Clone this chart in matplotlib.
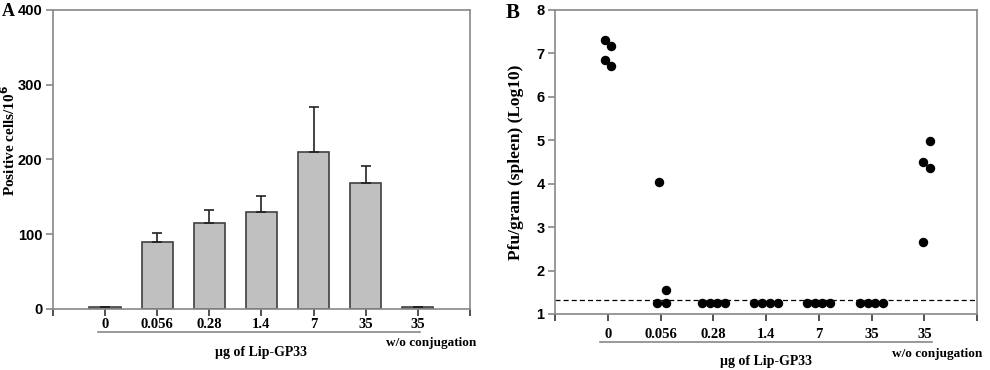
import numpy as np
import matplotlib.pyplot as plt
from matplotlib import transforms

# Data
doses = ["0", "0.056", "0.28", "1.4", "7", "35", "35"]
cells_mean = [2, 89, 115, 130, 210, 168, 2]
cells_err = [1, 13, 17, 21, 60, 23, 1]

# panel B: log10 pfu per gram spleen, individual mice
pfu_groups = [
    [7.31, 7.16, 6.85, 6.70],
    [4.05, 1.55, 1.25, 1.25],
    [1.25, 1.25, 1.25, 1.25],
    [1.25, 1.25, 1.25, 1.25],
    [1.25, 1.25, 1.25, 1.25],
    [1.25, 1.25, 1.25, 1.25],
    [4.99, 4.51, 4.36, 2.66],
]
pfu_offsets = [
    [-0.06, 0.07, -0.06, 0.07],
    [-0.03, 0.10, -0.06, 0.10],
    [-0.22, -0.07, 0.07, 0.22],
    [-0.22, -0.07, 0.07, 0.22],
    [-0.22, -0.07, 0.07, 0.22],
    [-0.22, -0.07, 0.07, 0.22],
    [0.10, -0.03, 0.10, -0.03],
]
detection_limit = 1.32

serif = "Liberation Serif"
sans = "Liberation Sans"
spine_col = "#888888"

fig = plt.figure(figsize=(9.9, 3.7), dpi=100)
axA = fig.add_axes([0.0535, 0.165, 0.4212, 0.808])
axB = fig.add_axes([0.5606, 0.1514, 0.4263, 0.8216])


def style_axes(ax, label_drop, wo_drop, title_drop, line_x):
    for s in ax.spines.values():
        s.set_color(spine_col)
        s.set_linewidth(1.2)
    ax.set_xlim(-1, 7)
    ax.set_xticks(range(-1, 8))
    ax.set_xticklabels([])
    ax.tick_params(axis="both", direction="out", length=5, color=spine_col, width=1.2)
    ax.tick_params(axis="x", color="#333333")
    ax.tick_params(axis="y", pad=2.5)
    for lab in ax.get_yticklabels():
        lab.set_fontfamily(sans)
        lab.set_fontweight("bold")
        lab.set_fontsize(10.5)
    base = transforms.blended_transform_factory(ax.transData, ax.transAxes)
    for i, d in enumerate(doses):
        tr = transforms.offset_copy(base, fig=fig, y=-label_drop, units="dots")
        ax.text(i, 0, d, transform=tr, ha="center", va="center",
                family=serif, weight="bold", fontsize=10.5)
    tr = transforms.offset_copy(base, fig=fig, y=-label_drop - 7, units="dots")
    ax.plot(line_x, [0, 0], color=spine_col, lw=1.2, transform=tr, clip_on=False)
    tr = transforms.offset_copy(base, fig=fig, y=-wo_drop, units="dots")
    ax.text(6.25, 0, "w/o conjugation", transform=tr, ha="center", va="center",
            family=serif, weight="bold", fontsize=9.5)
    tr = transforms.offset_copy(base, fig=fig, y=-title_drop, units="dots")
    ax.text(3, 0, "µg of Lip-GP33", transform=tr, ha="center", va="center",
            family=serif, weight="bold", fontsize=10)


# Panel A
x = np.arange(len(doses))
axA.bar(x, cells_mean, width=0.6, color="#c0c0c0", edgecolor="#404040", lw=1.2, zorder=2)
axA.errorbar(x, cells_mean, yerr=[np.zeros(len(x)), cells_err], fmt="none",
             ecolor="#222222", elinewidth=1.2, capsize=3.5, capthick=1.2, zorder=3)
axA.set_ylim(0, 400)
axA.set_yticks([0, 100, 200, 300, 400])
style_axes(axA, 16, 34, 44, [-0.13, 6.04])

# Panel B
for i, (vals, offs) in enumerate(zip(pfu_groups, pfu_offsets)):
    axB.plot(np.array(offs) + i, vals, "o", color="black", ms=5.8, zorder=3)
axB.axhline(detection_limit, color="black", lw=0.9, ls=(0, (4, 2.5)))
axB.set_ylim(1, 8)
axB.set_yticks(range(1, 9))
style_axes(axB, 21, 40, 48, [-0.15, 6.15])

fig.text(0.0085, 0.619, "Positive cells/10$^{\\mathbf{6}}$", rotation=90, ha="center",
         va="center", family=serif, weight="bold", fontsize=11)
fig.text(0.521, 0.561, "Pfu/gram (spleen) (Log10)", rotation=90, ha="center",
         va="center", family=serif, weight="bold", fontsize=12.5)
fig.text(0.002, 0.968, "A", ha="left", va="center", family=serif, weight="bold", fontsize=13)
fig.text(0.511, 0.965, "B", ha="left", va="center", family=serif, weight="bold", fontsize=15)

fig.savefig("out.png", dpi=100)
